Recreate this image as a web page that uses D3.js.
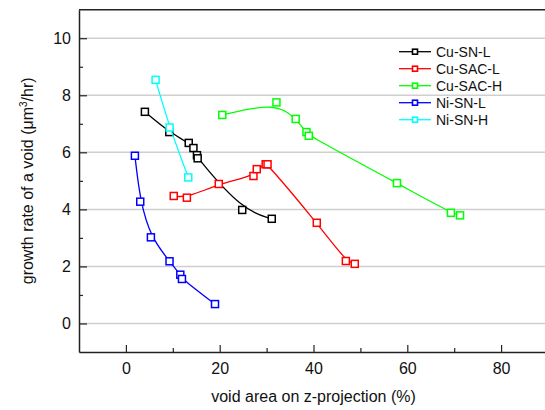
<!DOCTYPE html>
<html>
<head>
<meta charset="utf-8">
<script src="https://cdn.jsdelivr.net/npm/d3@7"></script>
<style>
    html, body { margin: 0; background: #ffffff; overflow: hidden; }
    svg { display: block; }
    text { font-family: "Liberation Sans", Arial, sans-serif; }
</style>
</head>
<body>
<div id="chart_div"></div>
<script>
// values (x: void area %, y: growth rate)
const series_names = ['Cu-SN-L', 'Cu-SAC-L', 'Cu-SAC-H', 'Ni-SN-L', 'Ni-SN-H'];

const cu_sn_l_x = [4.05, 9.25, 13.4, 14.4, 15.15, 15.3, 24.8, 31.1];
const cu_sn_l_y = [7.42, 6.71, 6.33, 6.15, 5.90, 5.79, 3.98, 3.67];

const cu_sac_l_x = [10.2, 13.0, 19.8, 27.2, 27.9, 29.8, 30.2, 40.7, 46.9, 48.8];
const cu_sac_l_y = [4.47, 4.41, 4.89, 5.17, 5.41, 5.58, 5.58, 3.53, 2.19, 2.09];

const cu_sac_h_x = [20.55, 32.1, 36.2, 38.5, 39.0, 57.8, 69.3, 71.25];
const cu_sac_h_y = [7.31, 7.75, 7.17, 6.71, 6.58, 4.92, 3.88, 3.79];

const ni_sn_l_x = [1.92, 3.06, 5.33, 9.3, 11.6, 11.95, 19.0];
const ni_sn_l_y = [5.88, 4.27, 3.02, 2.18, 1.71, 1.56, 0.68];

const ni_sn_h_x = [6.33, 9.32, 13.3];
const ni_sn_h_y = [8.54, 6.87, 5.12];

const x_ticks = [0, 20, 40, 60, 80];
const x_minor_ticks = [10, 30, 50, 70];
const y_ticks = [0, 2, 4, 6, 8, 10];
const y_minor_ticks = [1, 3, 5, 7, 9];

const series_colors = ['#000000', '#ff0000', '#00ff00', '#0000ff', '#00ffff'];

let all_series = [
    [cu_sn_l_x, cu_sn_l_y],
    [cu_sac_l_x, cu_sac_l_y],
    [cu_sac_h_x, cu_sac_h_y],
    [ni_sn_l_x, ni_sn_l_y],
    [ni_sn_h_x, ni_sn_h_y]
].map(function (s, i) {
    return {
        name: series_names[i],
        color: series_colors[i],
        points: s[0].map((v, j) => ({x: v, y: s[1][j]}))
    };
});

let svg = d3.select('#chart_div').append('svg')
    .attr('width', 545)
    .attr('height', 410);

let plot_left = 79, plot_right = 548, plot_top = 9.7, plot_bottom = 352;

let x = d3.scaleLinear().domain([-10, 90]).range([plot_left, plot_right]);
let y = d3.scaleLinear().domain([-1, 11]).range([plot_bottom, plot_top]);

// grid lines
svg.append('g').selectAll('line')
    .data(y_ticks)
    .enter().append('line')
    .attr('x1', plot_left).attr('x2', plot_right)
    .attr('y1', d => y(d)).attr('y2', d => y(d))
    .attr('stroke', '#cfcfcf')
    .attr('stroke-width', 1.5);

// frame top (right side falls outside the picture)
svg.append('line')
    .attr('x1', plot_left).attr('x2', plot_right).attr('y1', plot_top).attr('y2', plot_top)
    .attr('stroke', '#222').attr('stroke-width', 1.5);

// axes
svg.append('g')
    .attr('transform', `translate(0,${plot_bottom})`)
    .call(d3.axisBottom(x).tickValues(x_ticks).tickSize(-7).tickSizeOuter(0).tickPadding(11));
svg.append('g')
    .attr('transform', `translate(0,${plot_bottom})`)
    .call(d3.axisBottom(x).tickValues(x_minor_ticks).tickSize(-4).tickSizeOuter(0).tickFormat(''))
    .select('.domain').remove();

svg.append('g')
    .attr('transform', `translate(${plot_left},0)`)
    .call(d3.axisLeft(y).tickValues(y_ticks).tickSize(-8).tickSizeOuter(0).tickPadding(8));
svg.append('g')
    .attr('transform', `translate(${plot_left},0)`)
    .call(d3.axisLeft(y).tickValues(y_minor_ticks).tickSize(-4).tickSizeOuter(0).tickFormat(''))
    .select('.domain').remove();

svg.selectAll('.domain').attr('stroke', '#222').attr('stroke-width', 1.5);
svg.selectAll('.tick line').attr('stroke', '#222').attr('stroke-width', 1.2);
svg.selectAll('.tick text')
    .attr('font-size', 16)
    .attr('fill', '#111')
    .style('font-family', '"Liberation Sans", Arial, sans-serif');

// curves (B-spline connection)
let line = d3.line()
    .x(d => x(d.x))
    .y(d => y(d.y))
    .curve(d3.curveBasis);

let layers = svg.append('g').selectAll('g.layer')
    .data(all_series)
    .enter().append('g')
    .classed('layer', true);

layers.append('path')
    .attr('d', d => line(d.points))
    .attr('fill', 'none')
    .attr('stroke', d => d.color)
    .attr('stroke-width', 1.3);

layers.each(function (s) {
    d3.select(this).selectAll('rect')
        .data(s.points)
        .enter().append('rect')
        .attr('x', d => x(d.x) - 3.5)
        .attr('y', d => y(d.y) - 3.5)
        .attr('width', 7)
        .attr('height', 7)
        .attr('fill', '#ffffff')
        .attr('stroke', s.color)
        .attr('stroke-width', 1.5);
});

// legend
let legend = svg.append('g').selectAll('g')
    .data(all_series)
    .enter().append('g')
    .attr('transform', (d, i) => `translate(0,${51.7 + i * 17})`);

legend.append('line')
    .attr('x1', 399).attr('x2', 431)
    .attr('stroke', d => d.color)
    .attr('stroke-width', 1.3);

legend.append('rect')
    .attr('x', 412.5).attr('y', -2.5)
    .attr('width', 5).attr('height', 5)
    .attr('fill', '#ffffff')
    .attr('stroke', d => d.color)
    .attr('stroke-width', 1.6);

legend.append('text')
    .attr('x', 436)
    .attr('dy', '0.36em')
    .attr('font-size', 14)
    .attr('fill', '#111')
    .text(d => d.name);

// axis titles
svg.append('text')
    .attr('x', x(40))
    .attr('y', 402)
    .attr('text-anchor', 'middle')
    .attr('font-size', 16)
    .attr('fill', '#111')
    .text('void area on z-projection (%)');

let y_title = svg.append('text')
    .attr('transform', `translate(33,${(plot_top + plot_bottom) / 2}) rotate(-90)`)
    .attr('text-anchor', 'middle')
    .attr('font-size', 16)
    .attr('fill', '#111');
y_title.append('tspan').text('growth rate of a void (\u03bcm');
y_title.append('tspan').attr('dy', -6).attr('font-size', 10).text('3');
y_title.append('tspan').attr('dy', 6).text('/hr)');
</script>
</body>
</html>
